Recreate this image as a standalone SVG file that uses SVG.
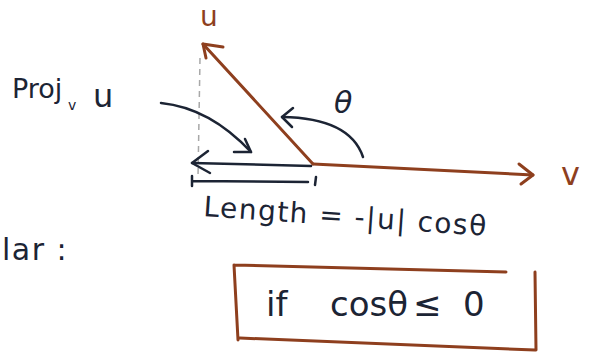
<svg xmlns="http://www.w3.org/2000/svg" width="597" height="356" viewBox="0 0 597 356">
<style>
.brown{stroke:#8e3f1e;fill:none;stroke-width:3;stroke-linecap:round;stroke-linejoin:round}
.ink{stroke:#1c2434;fill:none;stroke-width:2.5;stroke-linecap:round;stroke-linejoin:round}
.dash{stroke:#a8a8a8;fill:none;stroke-width:1.5;stroke-dasharray:6 5}
.t{font-family:"DejaVu Sans",sans-serif;fill:#1c2434}
.tb{font-family:"DejaVu Sans",sans-serif;fill:#8e3f1e}
</style>
<rect width="597" height="356" fill="#ffffff"/>
<g id="dashed-drop">
<path class="dash" d="M200 58 L198 178"/>
</g>
<g id="vector-v">
<path class="brown" d="M313 164 L533 175"/>
<path class="brown" d="M519 164 L533 175 L521 184"/>
<text class="tb" x="561" y="185" font-size="32">v</text>
</g>
<g id="vector-u">
<path class="brown" d="M313 164 L203 44"/>
<path class="brown" d="M223 47 L203 44 L206 58"/>
<text class="tb" x="200" y="26" font-size="28">u</text>
</g>
<g id="connectors">
<path class="ink" d="M311 166 L192 163"/>
<path class="ink" d="M208 151 L192 163 L210 173"/>
<path class="ink" d="M192 176 L192 186 M192 181 L308 182 M316 177 L315 185"/>
<path class="ink" stroke-width="2" d="M161 103 Q210 108 251 152"/>
<path class="ink" stroke-width="2" d="M245 139 L251 152 L234 152"/>
<path class="ink" stroke-width="2" d="M363 157 Q350 118 282 117"/>
<path class="ink" stroke-width="2" d="M293 108 L282 117 L292 127"/>
</g>
<g id="label-theta">
<text class="t" x="334" y="113" font-size="30" font-style="italic">θ</text>
</g>
<g id="label-proj">
<text class="t" x="12" y="98" font-size="27">Proj</text>
<text class="t" x="68" y="110" font-size="14">v</text>
<text class="t" x="93" y="107" font-size="32">u</text>
</g>
<g id="label-length">
<text class="t" x="203" y="216" font-size="28" letter-spacing="1.5" transform="rotate(4 203 216)">Length = -|u| cosθ</text>
</g>
<g id="label-lar">
<text class="t" x="2" y="260" font-size="30" letter-spacing="1.5">lar :</text>
</g>
<g id="condition-box">
<path class="brown" d="M234 265 L506 272 M535 272 L536 350 M240 338 L535 350 M234 265 L238 340"/>
<text class="t" y="316" font-size="34"><tspan x="266">if</tspan><tspan x="330">cosθ</tspan><tspan x="413">≤</tspan><tspan x="463">0</tspan></text>
</g>
</svg>
